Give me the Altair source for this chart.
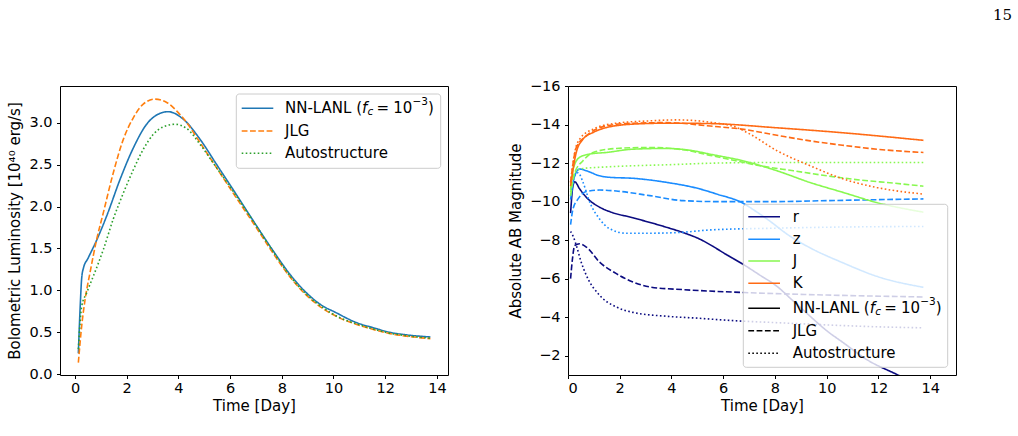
import altair as alt
import pandas as pd

FONT = "DejaVu Sans"

# ---------------------------------------------------------------------------
# Bolometric luminosity [10^40 erg/s] versus time [day]
# ---------------------------------------------------------------------------
nn_t = [0.13, 0.20, 0.26, 0.33, 0.50, 0.84, 1.23, 1.74, 2.26, 2.77, 3.29, 3.60,
        4.19, 4.84, 5.48, 6.12, 6.77, 7.67, 8.32, 8.96, 9.61, 10.00, 10.90,
        11.54, 12.19, 12.83, 13.75]
nn_L = [0.25, 0.80, 1.15, 1.27, 1.38, 1.60, 1.89, 2.32, 2.70, 2.98, 3.11, 3.13,
        3.04, 2.80, 2.50, 2.20, 1.89, 1.47, 1.19, 0.97, 0.81, 0.75, 0.615,
        0.555, 0.50, 0.47, 0.445]

jlg_t = [0.13, 0.26, 0.39, 0.58, 0.84, 1.10, 1.48, 1.87, 2.26, 2.64, 3.09, 3.55,
         3.93, 4.32, 4.84, 5.48, 6.12, 7.03, 7.67, 8.32, 8.96, 9.61, 10.25,
         10.90, 11.54, 12.19, 12.83, 13.75]
jlg_L = [0.14, 0.58, 0.89, 1.21, 1.61, 1.93, 2.40, 2.80, 3.06, 3.22, 3.28, 3.24,
         3.14, 3.00, 2.76, 2.46, 2.16, 1.74, 1.44, 1.16, 0.94, 0.78, 0.67,
         0.595, 0.535, 0.485, 0.455, 0.425]

auto_t = [0.13, 0.26, 0.45, 0.71, 1.10, 1.48, 1.87, 2.26, 2.64, 3.03, 3.42, 3.87,
          4.32, 4.84, 5.48, 6.12, 7.03, 7.67, 8.32, 8.96, 9.61, 10.25, 10.90,
          11.54, 12.19, 12.83, 13.75]
auto_L = [0.30, 0.81, 0.97, 1.17, 1.49, 1.85, 2.16, 2.44, 2.68, 2.86, 2.95, 2.98,
          2.93, 2.74, 2.46, 2.18, 1.76, 1.46, 1.17, 0.95, 0.79, 0.675, 0.60,
          0.54, 0.49, 0.46, 0.43]

models = ["NN-LANL", "JLG", "Autostructure"]
model_colors = ["#1f77b4", "#ff7f0e", "#2ca02c"]
model_dashes = [[1, 0], [5.8, 2.5], [1.6, 2.4]]

# ---------------------------------------------------------------------------
# Absolute AB magnitudes per band and atomic-data model
# ---------------------------------------------------------------------------
r_nn_t = [0.10, 0.19, 0.26, 0.45, 0.71, 1.22, 1.61, 2.51, 3.80, 4.50, 5.10, 5.60,
          6.00, 6.80, 7.40, 8.08, 8.70, 9.36, 10.00, 10.65, 11.55, 12.71, 13.75]
r_nn_m = [-9.4, -10.8, -11.03, -10.66, -10.22, -9.71, -9.48, -9.16, -8.67, -8.37,
          -8.05, -7.68, -7.35, -6.72, -6.2, -5.6, -4.85, -4.05, -3.3, -2.67,
          -1.8, -1.03, -0.35]
r_jlg_t = [0.10, 0.17, 0.26, 0.45, 0.71, 1.22, 1.87, 2.51, 3.16, 4.45, 5.73, 7.00,
           10.00, 13.74]
r_jlg_m = [-6.0, -7.0, -7.72, -7.81, -7.64, -6.86, -6.26, -5.83, -5.57, -5.43,
           -5.34, -5.27, -5.15, -5.05]
r_auto_t = [0.10, 0.20, 0.35, 0.50, 0.71, 1.22, 1.87, 2.51, 3.80, 5.00, 6.40,
            8.00, 10.00, 12.00, 13.74]
r_auto_m = [-8.45, -8.2, -7.6, -6.9, -6.17, -5.14, -4.53, -4.25, -4.05, -3.95,
            -3.82, -3.72, -3.6, -3.5, -3.45]

z_nn_t = [0.10, 0.26, 0.45, 0.71, 1.22, 1.61, 2.51, 3.80, 5.09, 5.73, 6.79, 7.20,
          7.69, 8.59, 9.36, 10.65, 11.94, 13.74]
z_nn_m = [-10.1, -11.34, -11.69, -11.6, -11.34, -11.26, -11.21, -11.0, -10.66,
          -10.4, -9.9, -9.55, -9.1, -8.2, -7.6, -6.81, -6.12, -5.55]
z_jlg_t = [0.10, 0.19, 0.39, 0.71, 1.22, 1.87, 3.16, 4.45, 5.73, 8.00, 10.00,
           12.00, 13.74]
z_jlg_m = [-8.8, -9.6, -10.14, -10.52, -10.6, -10.55, -10.31, -10.05, -10.0,
           -10.0, -10.05, -10.1, -10.14]
z_auto_t = [0.10, 0.26, 0.39, 0.58, 0.84, 1.22, 1.61, 2.25, 3.20, 4.45, 5.50,
            8.00, 10.00, 13.74]
z_auto_m = [-10.3, -11.34, -11.5, -11.0, -9.97, -9.1, -8.59, -8.36, -8.36, -8.41,
            -8.53, -8.62, -8.67, -8.71]

j_nn_t = [0.10, 0.20, 0.45, 0.84, 1.48, 2.51, 3.80, 4.83, 5.50, 6.79, 8.08, 9.36,
          10.65, 11.94, 13.74]
j_nn_m = [-10.6, -11.7, -12.3, -12.47, -12.55, -12.72, -12.76, -12.64, -12.46,
          -12.11, -11.6, -10.99, -10.47, -9.95, -9.45]
j_jlg_t = [0.10, 0.26, 0.58, 0.97, 1.87, 3.16, 4.45, 5.50, 6.53, 7.43, 8.72, 10.00,
           11.29, 12.58, 13.74]
j_jlg_m = [-10.3, -11.5, -12.12, -12.55, -12.76, -12.81, -12.69, -12.4, -12.11,
           -11.86, -11.6, -11.34, -11.12, -10.96, -10.8]
j_auto_t = [0.10, 0.26, 0.58, 1.22, 2.51, 3.80, 5.73, 8.00, 13.74]
j_auto_m = [-10.5, -11.5, -11.72, -11.78, -11.86, -11.91, -12.0, -12.03, -12.03]

k_nn_t = [0.10, 0.32, 0.58, 0.97, 1.48, 2.51, 3.80, 5.50, 8.08, 10.65, 13.74]
k_nn_m = [-10.8, -12.55, -13.24, -13.59, -13.84, -14.02, -14.07, -14.05, -13.83,
          -13.57, -13.18]
k_jlg_t = [0.10, 0.32, 0.71, 1.48, 2.51, 3.80, 5.50, 6.79, 8.08, 9.36, 10.65,
           11.94, 13.74]
k_jlg_m = [-11.0, -12.8, -13.41, -13.93, -14.07, -14.1, -13.92, -13.75, -13.44,
           -13.15, -12.92, -12.72, -12.55]
k_auto_t = [0.10, 0.26, 0.45, 0.97, 1.87, 3.16, 4.19, 5.50, 6.53, 7.04, 8.08,
            9.36, 10.65, 11.94, 13.74]
k_auto_m = [-11.0, -12.55, -13.24, -13.76, -14.07, -14.19, -14.24, -14.12, -13.84,
            -13.5, -12.64, -11.86, -11.17, -10.73, -10.39]

bands = ["r", "z", "J", "K"]
band_colors = ["#0b0b80", "#1a8cff", "#88f850", "#ff6a14"]

# ---------------------------------------------------------------------------
# Long-form tables
# ---------------------------------------------------------------------------
bol_series = [("NN-LANL", nn_t, nn_L), ("JLG", jlg_t, jlg_L),
              ("Autostructure", auto_t, auto_L)]
df_bol = pd.DataFrame(
    [{"t": t, "L": v, "model": m} for m, ts, vs in bol_series for t, v in zip(ts, vs)]
)

mag_series = [
    ("r", "NN-LANL", r_nn_t, r_nn_m), ("r", "JLG", r_jlg_t, r_jlg_m),
    ("r", "Autostructure", r_auto_t, r_auto_m),
    ("z", "NN-LANL", z_nn_t, z_nn_m), ("z", "JLG", z_jlg_t, z_jlg_m),
    ("z", "Autostructure", z_auto_t, z_auto_m),
    ("J", "NN-LANL", j_nn_t, j_nn_m), ("J", "JLG", j_jlg_t, j_jlg_m),
    ("J", "Autostructure", j_auto_t, j_auto_m),
    ("K", "NN-LANL", k_nn_t, k_nn_m), ("K", "JLG", k_jlg_t, k_jlg_m),
    ("K", "Autostructure", k_auto_t, k_auto_m),
]
df_mag = pd.DataFrame(
    [{"t": t, "mag": v, "band": b, "model": m}
     for b, m, ts, vs in mag_series for t, v in zip(ts, vs)]
)

PANEL_W, PANEL_H = 388, 289
LW = 1.6
ONE = alt.Data(values=[{}])


# ---------------------------------------------------------------------------
# Legend helpers (drawn inside the plot area, matplotlib style)
# ---------------------------------------------------------------------------
def legend_box(x0, y0, x1, y1):
    return alt.Chart(ONE).mark_rect(
        fill="white", fillOpacity=0.8, stroke="#cccccc", strokeWidth=1, cornerRadius=3
    ).encode(x=alt.value(x0), x2=alt.value(x1), y=alt.value(y0), y2=alt.value(y1))


def legend_sample(x0, x1, y, color, dash):
    return alt.Chart(ONE).mark_rule(
        color=color, strokeWidth=LW, strokeDash=dash
    ).encode(x=alt.value(x0), x2=alt.value(x1), y=alt.value(y))


def text_piece(s, x, y, size=15, style="normal", dy=0):
    return alt.Chart(ONE).mark_text(
        text=s, align="left", baseline="middle", font=FONT, fontSize=size,
        fontStyle=style, dy=dy, color="black"
    ).encode(x=alt.value(x), y=alt.value(y))


def legend_label(x, y, label):
    if label != "NN-LANL":
        return [text_piece(label, x, y)]
    # NN-LANL (f_c = 10^-3)
    return [
        text_piece("NN-LANL (", x, y),
        text_piece("f", x + 77, y, style="italic"),
        text_piece("c", x + 82.5, y, size=10.5, style="italic", dy=3.5),
        text_piece("=", x + 91.5, y),
        text_piece("10", x + 108.3, y),
        text_piece("\u22123", x + 127.5, y, size=10.5, dy=-6),
        text_piece(")", x + 143, y),
    ]


# ---------------------------------------------------------------------------
# Left panel: bolometric luminosity
# ---------------------------------------------------------------------------
bol_lines = alt.Chart(df_bol).mark_line(
    strokeWidth=LW, interpolate="monotone", clip=True
).encode(
    x=alt.X("t:Q", scale=alt.Scale(domain=[-0.58, 14.43], nice=False, zero=False),
            axis=alt.Axis(values=list(range(0, 15, 2)), title="Time [Day]")),
    y=alt.Y("L:Q", scale=alt.Scale(domain=[-0.008, 3.436], nice=False, zero=False),
            axis=alt.Axis(values=[0, 0.5, 1, 1.5, 2, 2.5, 3], format=".1f",
                          title="Bolometric Luminosity [10\u2074\u2070 erg/s]")),
    color=alt.Color("model:N", scale=alt.Scale(domain=models, range=model_colors),
                    legend=None),
    strokeDash=alt.StrokeDash("model:N",
                              scale=alt.Scale(domain=models, range=model_dashes),
                              legend=None),
)

left_layers = [bol_lines, legend_box(176.3, 8, 380.7, 82.3)]
left_rows = [22.3, 45.0, 67.3]
for yy, m, c, d in zip(left_rows, models, model_colors, model_dashes):
    left_layers.append(legend_sample(181.7, 213.3, yy, c, d))
    left_layers += legend_label(225, yy, m)

left = alt.layer(*left_layers).properties(width=PANEL_W, height=PANEL_H)

# ---------------------------------------------------------------------------
# Right panel: absolute AB magnitudes
# ---------------------------------------------------------------------------
mag_lines = alt.Chart(df_mag).mark_line(
    strokeWidth=LW, interpolate="monotone", clip=True
).encode(
    x=alt.X("t:Q", scale=alt.Scale(domain=[0, 15], nice=False, zero=False),
            axis=alt.Axis(values=list(range(0, 15, 2)), title="Time [Day]")),
    y=alt.Y("mag:Q",
            scale=alt.Scale(domain=[-16, -1], nice=False, zero=False, reverse=True),
            axis=alt.Axis(values=list(range(-16, -1, 2)), format="d",
                          title="Absolute AB Magnitude")),
    color=alt.Color("band:N", scale=alt.Scale(domain=bands, range=band_colors),
                    legend=None),
    strokeDash=alt.StrokeDash("model:N",
                              scale=alt.Scale(domain=models, range=model_dashes),
                              legend=None),
)

right_layers = [mag_lines, legend_box(175.3, 118.3, 379.7, 281.3)]
right_rows = [130.7, 153.3, 175.0, 197.3, 222.3, 244.7, 267.3]
entries = ([(b, c, [1, 0]) for b, c in zip(bands, band_colors)]
           + [(m, "black", d) for m, d in zip(models, model_dashes)])
for yy, (lab, c, d) in zip(right_rows, entries):
    right_layers.append(legend_sample(180.3, 212, yy, c, d))
    right_layers += legend_label(224.7, yy, lab)

# page number in the top right corner
right_layers.append(
    alt.Chart(ONE).mark_text(
        text="15", align="right", baseline="middle", font="DejaVu Serif",
        fontSize=15, color="black"
    ).encode(x=alt.value(444), y=alt.value(-71))
)

right = alt.layer(*right_layers).properties(width=PANEL_W, height=PANEL_H)

chart = alt.hconcat(left, right, spacing=120, bounds="flush").resolve_scale(
    color="independent", strokeDash="independent"
).properties(
    autosize=alt.AutoSizeParams(type="none"),
    padding={"left": 60, "top": 86, "right": 958, "bottom": 350},
).configure_view(
    stroke="black", strokeWidth=1
).configure_axis(
    labelFont=FONT, titleFont=FONT, labelFontSize=14.5, titleFontSize=15,
    labelColor="black", titleColor="black", titleFontWeight="normal",
    tickColor="black", tickSize=3.5, tickWidth=1, domain=False, grid=False,
).configure_axisX(
    labelPadding=3, titlePadding=3
).configure_axisY(
    labelPadding=4.5, titlePadding=6
)

chart.save("out.html", embed_options={"renderer": "svg", "actions": False})
